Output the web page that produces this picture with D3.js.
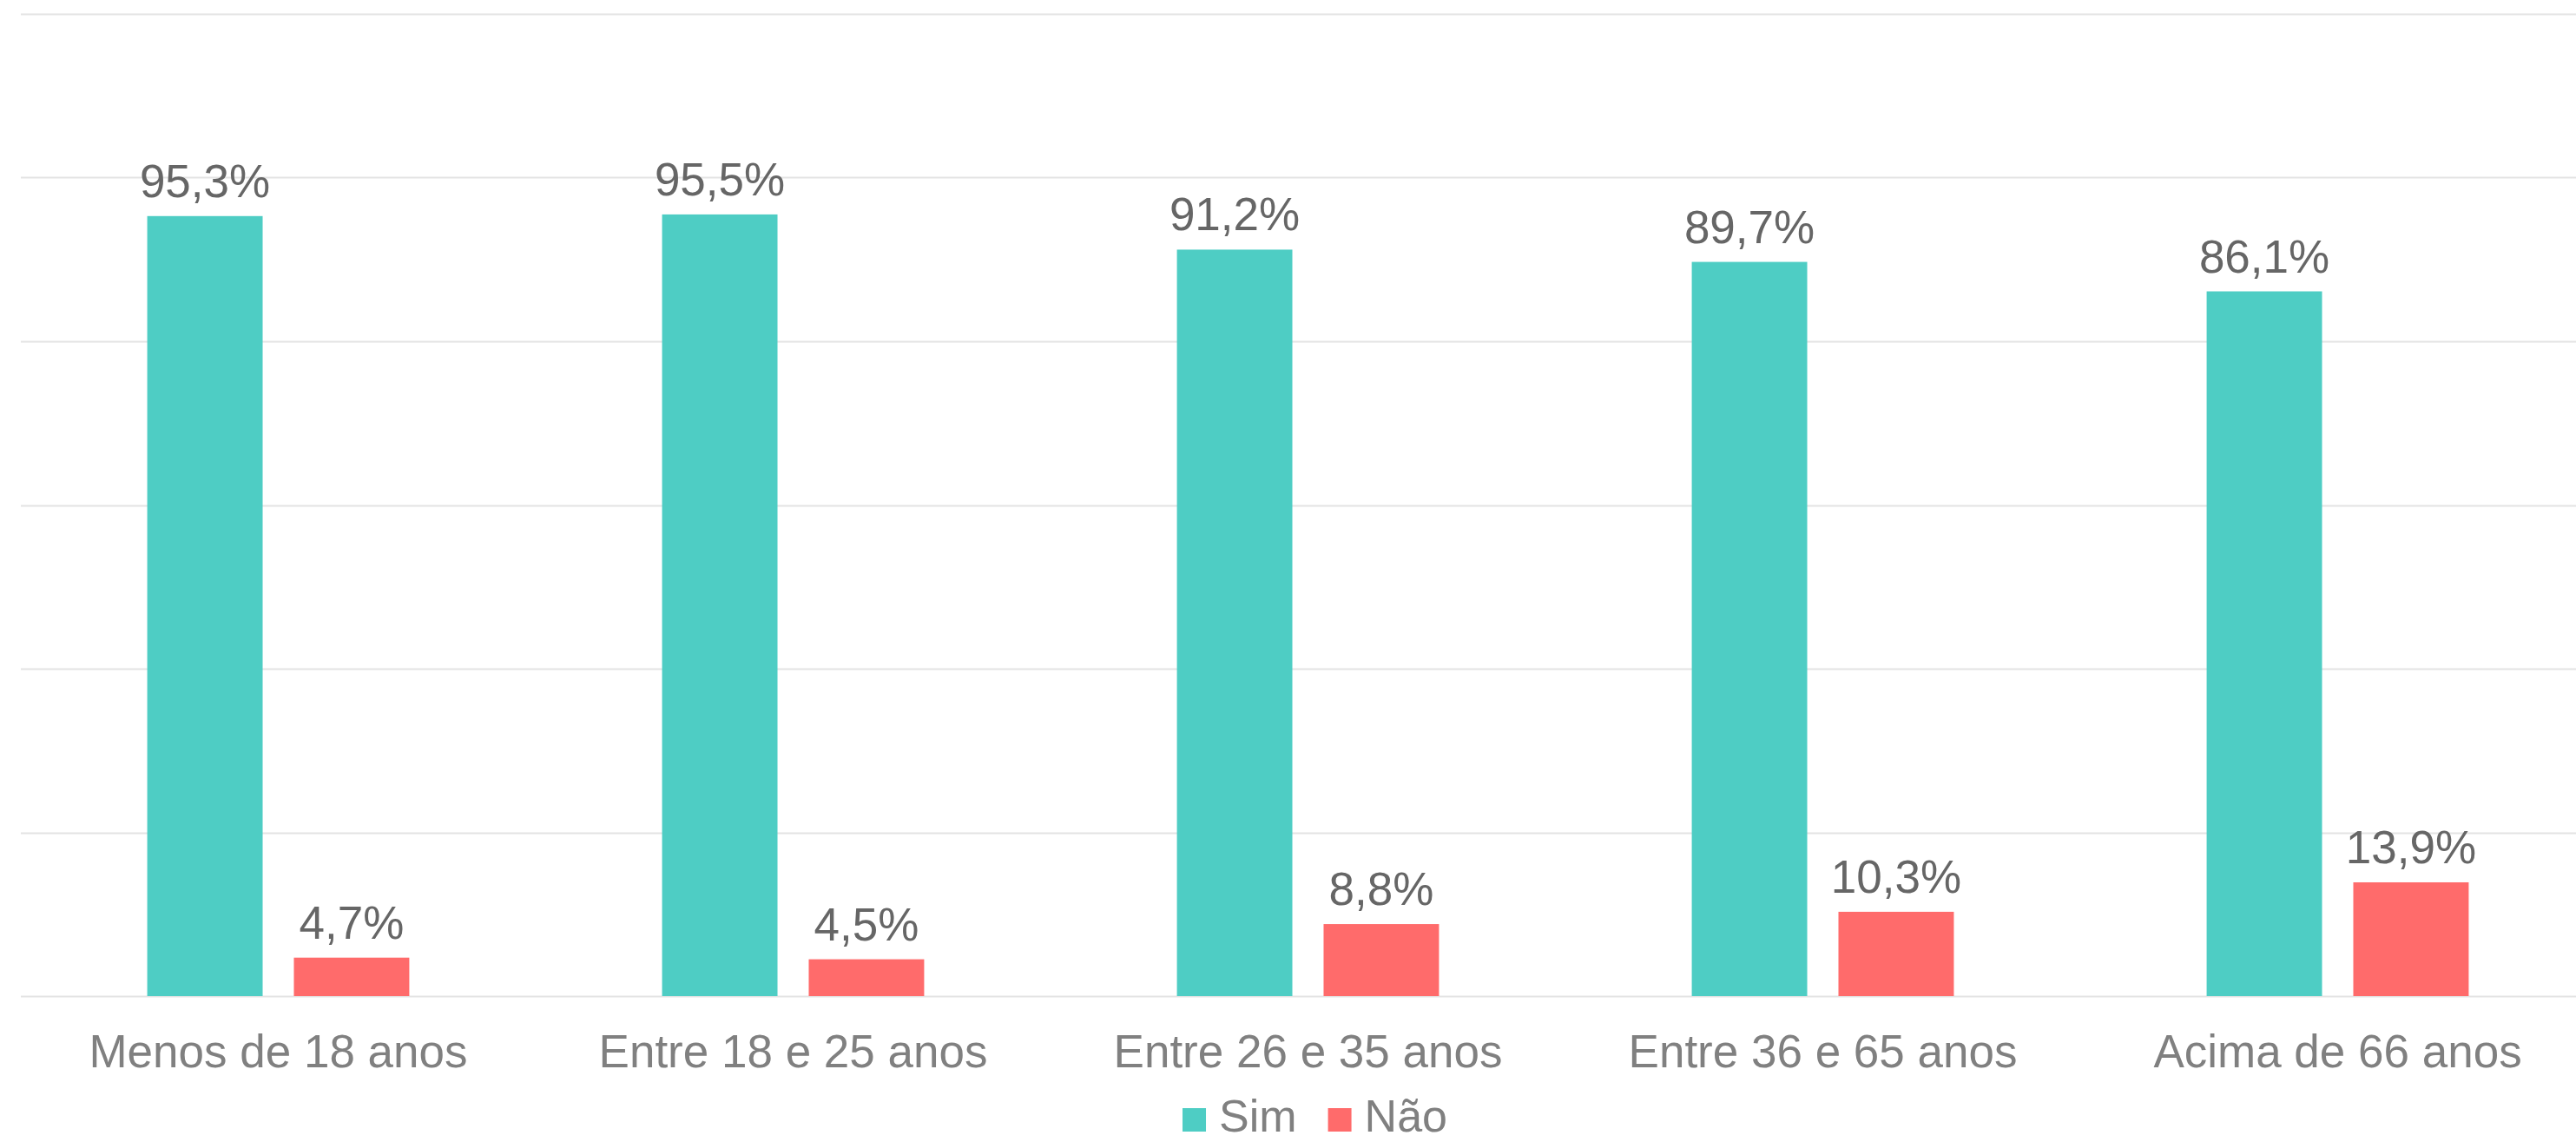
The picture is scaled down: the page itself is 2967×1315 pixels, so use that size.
<!DOCTYPE html>
<html>
<head>
<meta charset="utf-8">
<script src="https://cdn.jsdelivr.net/npm/d3@7"></script>
<style>
    html, body { margin: 0; padding: 0; background: #fff; overflow: hidden; }
    svg { display: block; font-family: "Liberation Sans", Arial, sans-serif; }
</style>
</head>
<body>
<div id="chart"></div>
<script>
const categories = ['Menos de 18 anos', 'Entre 18 e 25 anos', 'Entre 26 e 35 anos', 'Entre 36 e 65 anos', 'Acima de 66 anos'];
const seriesNames = ['Sim', 'Não'];
const simValues = [95.3, 95.5, 91.2, 89.7, 86.1];
const naoValues = [4.7, 4.5, 8.8, 10.3, 13.9];
const yTicks = [0, 20, 40, 60, 80, 100, 120];
const colors = ['#4ecdc4', '#ff6b6b'];

const config = {
    width: 2967,
    height: 1315,
    margin: { top: 16, left: 24 },
    plotRight: 2989,   // plot area runs a bit past the window edge
    baseline: 1147,
    fontSize: 53,
};

const rows = categories.map((c, i) => ({
    category: c,
    values: [
        { series: seriesNames[0], value: simValues[i] },
        { series: seriesNames[1], value: naoValues[i] },
    ],
}));

const pt = d3.formatLocale({ decimal: ',', thousands: '.', grouping: [3], currency: ['', ''] });
const fmt = v => pt.format('.1f')(v) + '%';

const svg = d3.select('#chart').append('svg')
    .attr('width', config.width)
    .attr('height', config.height);

// scales
const x0 = d3.scaleBand()
    .domain(categories)
    .range([config.margin.left, config.plotRight])
    .padding(0);
const bw = x0.bandwidth();
const x1 = d3.scaleBand()
    .domain(seriesNames)
    .range([bw * 0.2455, bw * 0.7545])
    .paddingInner(0.213);
const y = d3.scaleLinear()
    .domain([0, 120])
    .range([config.baseline, config.margin.top]);
const color = d3.scaleOrdinal().domain(seriesNames).range(colors);

// gridlines
svg.append('g')
    .attr('class', 'grid')
    .selectAll('line')
    .data(yTicks)
    .join('line')
    .attr('x1', config.margin.left)
    .attr('x2', config.plotRight)
    .attr('y1', d => Math.round(y(d)) + 0.5)
    .attr('y2', d => Math.round(y(d)) + 0.5)
    .attr('stroke', '#e3e3e3')
    .attr('stroke-width', 2);

// bars
const groups = svg.append('g')
    .selectAll('g')
    .data(rows)
    .join('g')
    .attr('transform', d => `translate(${x0(d.category)},0)`);

groups.selectAll('rect')
    .data(d => d.values)
    .join('rect')
    .attr('x', d => x1(d.series))
    .attr('width', x1.bandwidth())
    .attr('y', d => y(d.value))
    .attr('height', d => y(0) - y(d.value))
    .attr('fill', d => color(d.series));

groups.selectAll('text')
    .data(d => d.values)
    .join('text')
    .attr('x', d => x1(d.series) + x1.bandwidth() / 2)
    .attr('y', d => y(d.value) - 22)
    .attr('text-anchor', 'middle')
    .attr('font-size', config.fontSize)
    .attr('fill', '#666666')
    .text(d => fmt(d.value));

// x axis
const xAxis = d3.axisBottom(x0).tickSize(0).tickPadding(44);
svg.append('g')
    .attr('transform', `translate(0,${config.baseline})`)
    .call(xAxis)
    .call(g => g.select('.domain').remove())
    .selectAll('text')
    .attr('font-size', 53)
    .attr('font-family', '"Liberation Sans", Arial, sans-serif')
    .attr('fill', '#808080');

// legend
const legend = svg.append('g').attr('class', 'legend');
const items = legend.selectAll('g')
    .data(seriesNames)
    .join('g');
items.append('rect')
    .attr('width', 27)
    .attr('height', 27)
    .attr('y', 1276)
    .attr('fill', d => color(d));
items.append('text')
    .attr('x', 42)
    .attr('y', 1303)
    .attr('font-size', 52)
    .attr('fill', '#808080')
    .text(d => d);

// lay legend items out side by side, centred under the plot
let offset = 0;
items.each(function () {
    d3.select(this).attr('transform', `translate(${offset},0)`);
    offset += this.getBBox().width + 36;
});
const legendWidth = offset - 36;
const legendCenter = (config.margin.left + config.plotRight) / 2 + 8;
legend.attr('transform', `translate(${legendCenter - legendWidth / 2},0)`);
</script>
</body>
</html>
